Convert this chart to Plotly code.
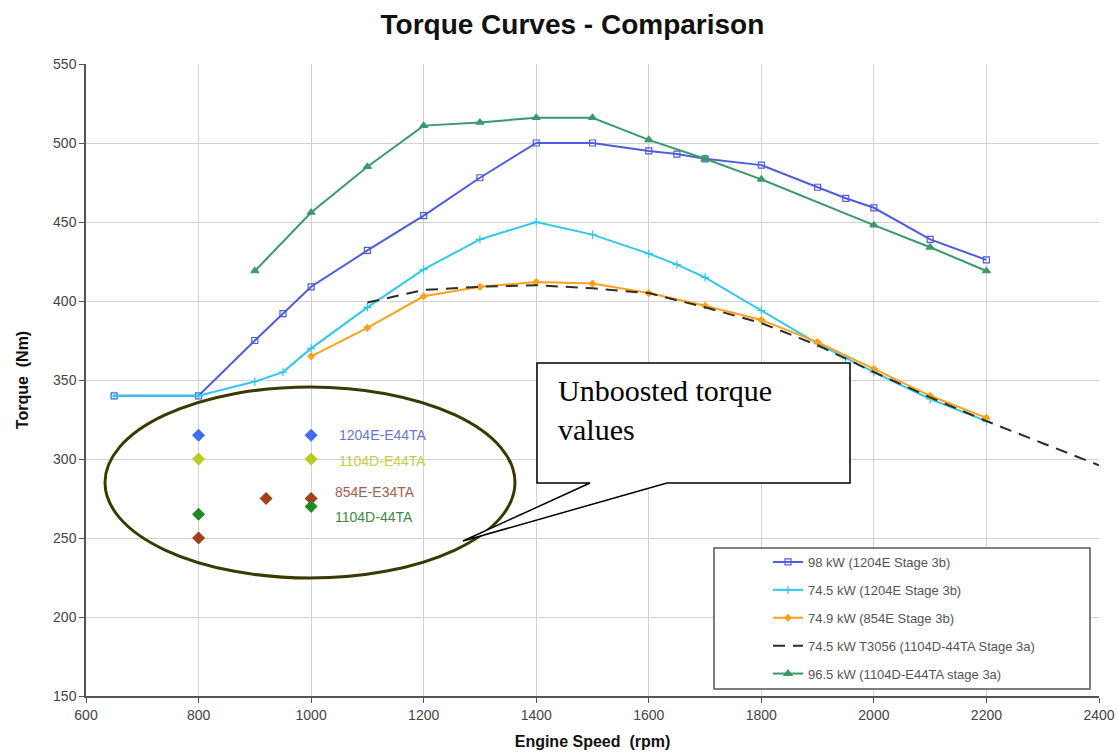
import plotly.graph_objects as go

# ---------------- data ----------------
rpm_98 = [650, 800, 900, 950, 1000, 1100, 1200, 1300, 1400, 1500, 1600, 1650, 1700, 1800, 1900, 1950, 2000, 2100, 2200]
tq_98 = [340, 340, 375, 392, 409, 432, 454, 478, 500, 500, 495, 493, 490, 486, 472, 465, 459, 439, 426]

rpm_745 = [650, 800, 900, 950, 1000, 1100, 1200, 1300, 1400, 1500, 1600, 1650, 1700, 1800, 1900, 1950, 2000, 2100, 2200]
tq_745 = [340, 340, 349, 355, 370, 396, 420, 439, 450, 442, 430, 423, 415, 394, 373, 364, 355, 338, 324]

rpm_749 = [1000, 1100, 1200, 1300, 1400, 1500, 1600, 1700, 1800, 1900, 2000, 2100, 2200]
tq_749 = [365, 383, 403, 409, 412, 411, 405, 397, 388, 374, 357, 340, 326]

rpm_t3056 = [1100, 1200, 1300, 1400, 1500, 1600, 1700, 1800, 1900, 2000, 2100, 2200, 2300, 2400]
tq_t3056 = [399, 407, 409, 410, 408, 405, 396, 386, 372, 355, 339, 324, 310, 296]

rpm_965 = [900, 1000, 1100, 1200, 1300, 1400, 1500, 1600, 1700, 1800, 2000, 2100, 2200]
tq_965 = [419, 456, 485, 511, 513, 516, 516, 502, 490, 477, 448, 434, 419]

series_names = [
    "98 kW (1204E Stage 3b)",
    "74.5 kW (1204E Stage 3b)",
    "74.9 kW (854E Stage 3b)",
    "74.5 kW T3056 (1104D-44TA Stage 3a)",
    "96.5 kW (1104D-E44TA stage 3a)",
]

# unboosted torque values (diamonds)
ub_labels = ["1204E-E44TA", "1104D-E44TA", "854E-E34TA", "1104D-44TA"]
ub_x = [[800, 1000], [800, 1000], [920, 1000, 800], [800, 1000]]
ub_y = [[315, 315], [300, 300], [275, 275, 250], [265, 270]]
ub_label_x = [1046, 1046, 1039, 1039]
ub_label_y = [315, 299, 279, 263]

x_ticks = [600, 800, 1000, 1200, 1400, 1600, 1800, 2000, 2200, 2400]
y_ticks = [150, 200, 250, 300, 350, 400, 450, 500, 550]

# ---------------- layout helpers (pixel -> paper) ----------------
W, H = 1118, 753
PL, PR, PT, PB = 86, 1099, 64, 696


def px(x):
    return (x - PL) / (PR - PL)


def py(y):
    return (PB - y) / (PB - PT)


FONT = "Liberation Sans, Arial, sans-serif"

fig = go.Figure()

styles = [
    dict(color="#4f5ce0", symbol="square-open", size=6, dash="solid"),
    dict(color="#30c8ee", symbol="cross-thin-open", size=6, dash="solid"),
    dict(color="#ffa01e", symbol="diamond", size=5, dash="solid"),
    dict(color="#2e2e22", symbol=None, size=0, dash="12px,8px"),
    dict(color="#3b9a6c", symbol="triangle-up", size=7, dash="solid"),
]
xs = [rpm_98, rpm_745, rpm_749, rpm_t3056, rpm_965]
ys = [tq_98, tq_745, tq_749, tq_t3056, tq_965]

for i, (name, x, y, st) in enumerate(zip(series_names, xs, ys, styles)):
    if st["symbol"]:
        fig.add_trace(go.Scatter(
            x=x, y=y, name=name, mode="lines+markers", legendgroup=f"g{i}",
            line=dict(color=st["color"], width=2, dash=st["dash"]),
            marker=dict(symbol=st["symbol"], size=st["size"], color=st["color"],
                        line=dict(color=st["color"], width=1.2)),
        ))
    else:
        fig.add_trace(go.Scatter(
            x=x, y=y, name=name, mode="lines", legendgroup=f"g{i}",
            line=dict(color=st["color"], width=2, dash=st["dash"]),
        ))

ub_colors = ["#3f6cf4", "#b8cc20", "#a0401c", "#1f8a24"]
ub_text_colors = ["#6a74e0", "#c4d040", "#a5604c", "#3c8c40"]
for lab, x, y, c in zip(ub_labels, ub_x, ub_y, ub_colors):
    fig.add_trace(go.Scatter(
        x=x, y=y, mode="markers", showlegend=False, name=lab,
        marker=dict(symbol="diamond", size=10, color=c),
    ))

for lab, lx, ly, c in zip(ub_labels, ub_label_x, ub_label_y, ub_text_colors):
    fig.add_annotation(x=lx, y=ly, xref="x", yref="y", text=lab, showarrow=False,
                       xanchor="left", yanchor="middle",
                       font=dict(family=FONT, size=14, color=c))

shapes = []
# ellipse around unboosted values
shapes.append(dict(type="circle", xref="paper", yref="paper",
                   x0=px(105), x1=px(515), y0=py(578), y1=py(387),
                   line=dict(color="#3a3a00", width=3), layer="above"))
# callout box with tail
cx0, cx1, cy0, cy1 = px(537), px(850), py(363), py(483)
tb0, tb1, tipx, tipy = px(590), px(667), px(463), py(541)
path = (f"M {cx0},{cy0} L {cx1},{cy0} L {cx1},{cy1} L {tb1},{cy1} "
        f"L {tipx},{tipy} L {tb0},{cy1} L {cx0},{cy1} Z")
shapes.append(dict(type="path", xref="paper", yref="paper", path=path,
                   fillcolor="white", line=dict(color="black", width=1.5), layer="above"))
# legend box
shapes.append(dict(type="rect", xref="paper", yref="paper",
                   x0=px(714), x1=px(1090), y0=py(689), y1=py(548),
                   fillcolor="white", line=dict(color="#555555", width=1.5), layer="above"))
fig.update_layout(shapes=shapes)

fig.add_annotation(xref="paper", yref="paper", x=px(556), y=py(372),
                   xanchor="left", yanchor="top", align="left", showarrow=False,
                   text="Unboosted torque<br>values",
                   font=dict(family="Liberation Serif, Times New Roman, serif", size=30, color="black"))

axis_common = dict(
    showgrid=True, gridcolor="#d2d2d2", gridwidth=1,
    showline=True, linecolor="#555555", linewidth=1.5,
    ticks="outside", ticklen=5, tickcolor="#555555",
    tickfont=dict(family=FONT, size=14, color="#444444"),
    zeroline=False,
)

fig.update_xaxes(range=[600, 2400], tickvals=x_ticks, ticktext=[str(v) for v in x_ticks],
                 title=dict(text="<b>Engine Speed\u00a0\u00a0(rpm)</b>",
                            font=dict(family=FONT, size=16, color="#111111")),
                 title_standoff=14, **axis_common)
fig.update_yaxes(range=[150, 550], tickvals=y_ticks, ticktext=[str(v) for v in y_ticks],
                 title=dict(text="<b>Torque\u00a0\u00a0(Nm)</b>",
                            font=dict(family=FONT, size=16, color="#111111")),
                 title_standoff=20, **axis_common)

fig.update_layout(
    width=W, height=H,
    margin=dict(l=PL, r=W - PR, t=PT, b=H - PB, autoexpand=False),
    paper_bgcolor="white", plot_bgcolor="white",
    title=dict(text="<b>Torque Curves - Comparison</b>", x=0.512, xanchor="center",
               y=1 - 24 / H, yanchor="middle",
               font=dict(family=FONT, size=28, color="#111111")),
    legend=dict(x=px(768), y=py(547), xanchor="left", yanchor="top",
                bgcolor="rgba(0,0,0,0)", borderwidth=0, tracegroupgap=8,
                font=dict(family=FONT, size=13, color="#555555")),
    showlegend=True,
)

fig.write_html("out.html")
